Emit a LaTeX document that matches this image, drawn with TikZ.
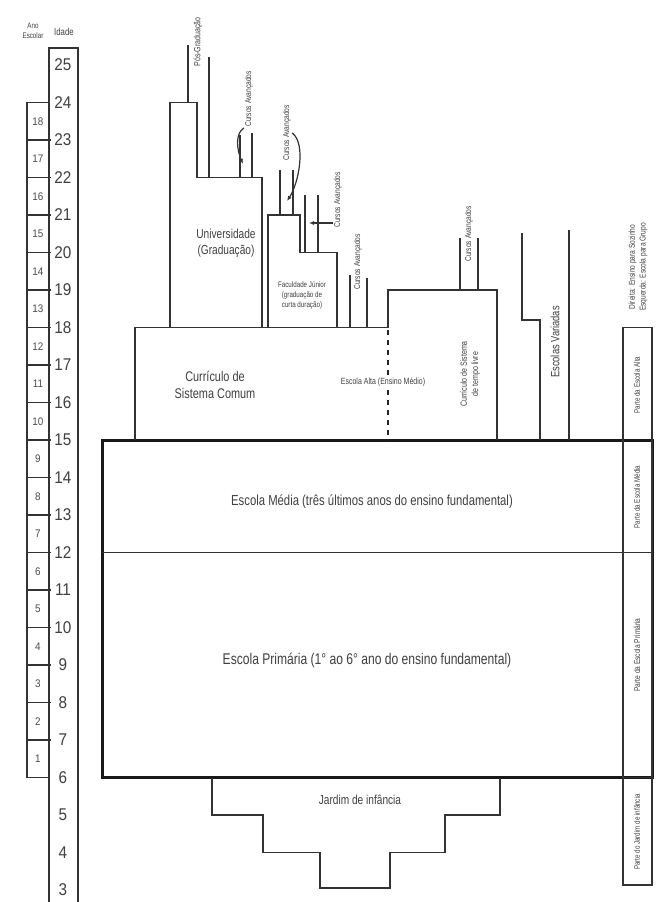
\documentclass[tikz,border=0pt]{standalone}
\usepackage{fontspec}
\setmainfont{Liberation Sans}
\newfontfamily\narrowfont[FakeStretch=0.78]{Liberation Sans}
\newfontfamily\numfont[FakeStretch=0.9]{Liberation Sans}
\usetikzlibrary{arrows.meta}

\begin{document}
\begin{tikzpicture}[x=1pt, y=-1pt,
    ln/.style={draw=black!80, line width=1.5pt},
    boxln/.style={draw=black!90, line width=3pt},
    txt/.style={text=black!75, align=center, inner sep=1pt,
      font=\narrowfont\fontsize{#1}{\fpeval{1.25*#1}}\selectfont},
    vtxt/.style={txt=#1, rotate=90},
    agenum/.style={text=black!75, inner sep=0pt, font=\numfont\fontsize{17}{17}\selectfont},
    yearnum/.style={text=black!70, inner sep=0pt, font=\numfont\fontsize{11}{11}\selectfont},
    arr/.style={draw=black!80, line width=1.2pt, -{Latex[length=5pt, width=4pt]}}]
  \useasboundingbox[fill=white] (0,0) rectangle (656,902);

  % idade e ano escolar
  \node[txt=8]  (anohead) at (33,31) {Ano\\Escolar};
  \node[txt=10] (idadehead) at (64,32) {Idade};
  \draw[ln] (49,902) -- (49,48) -- (78,48) -- (78,902);
  \foreach \a in {3,...,25}
    \node[agenum] (age\a) at (63,{65+(25-\a)*37.5}) {\a};
  \draw[ln] (27,102.5) rectangle (49,777.5);
  \foreach \n in {1,...,17}
    \draw[ln] (27,{65+(19-\n)*37.5}) -- (51,{65+(19-\n)*37.5});
  \foreach \n in {1,...,18}
    \node[yearnum] (yr\n) at (38,{65+(19.5-\n)*37.5}) {\n};

  % ensino fundamental
  \draw[boxln] (102,440) rectangle (652,777.5);
  \draw[ln, line width=1pt] (102,552.5) -- (652,552.5);
  \node[txt=14.5] (media) at (372,502) {Escola Média (três últimos anos do ensino fundamental)};
  \node[txt=15.5] (primaria) at (367,660) {Escola Primária (1° ao 6° ano do ensino fundamental)};

  % jardim de infancia
  \draw[ln] (212,777.5) -- (212,815) -- (263,815) -- (263,852.5) -- (320,852.5)
    -- (320,888) -- (390,888) -- (390,852.5) -- (445,852.5) -- (445,815)
    -- (500,815) -- (500,777.5);
  \node[txt=13] (jardim) at (360,800) {Jardim de infância};

  % escola alta
  \draw[ln] (135,440) -- (135,327.5) -- (388,327.5) -- (388,290) -- (497,290) -- (497,440);
  \draw[draw=black!85, line width=2.5pt, dash pattern=on 5pt off 5pt] (388,330) -- (388,440);
  \node[txt=14] (comum) at (215,385) {Currículo de\\Sistema Comum};
  \node[txt=9, fill=white] (alta) at (383,382) {Escola Alta (Ensino Médio)};
  \node[vtxt=9] (livre) at (470,374) {Currículo de Sistema\\de tempo livre};

  % universidade e faculdade
  \draw[ln] (170,327.5) -- (170,102.5) -- (197,102.5) -- (197,177.5) -- (262,177.5) -- (262,327.5);
  \draw[ln] (268,327.5) -- (268,215) -- (300,215) -- (300,252.5) -- (337,252.5) -- (337,327.5);
  \node[txt=13] (univ) at (226,243) {Universidade\\(Graduação)};
  \node[txt=8] (junior) at (302,295) {Faculdade Júnior\\(graduação de\\curta duração)};

  % pos-graduacao e cursos avancados
  \draw[ln] (188,102.5) -- (188,45);
  \draw[ln] (209,177.5) -- (209,57);
  \node[vtxt=9] (posgrad) at (198,42) {Pós-Graduação};
  \draw[ln] (240,177.5) -- (240,135);
  \draw[ln] (252,177.5) -- (252,133);
  \node[vtxt=8.5] (ca1) at (249,99) {Cursos Avançados};
  \draw[ln] (280,215) -- (280,170);
  \draw[ln] (293,215) -- (293,170);
  \node[vtxt=8.5] (ca2) at (287,133) {Cursos Avançados};
  \draw[ln] (305,252.5) -- (305,195);
  \draw[ln] (318,252.5) -- (318,195);
  \node[vtxt=8.5] (ca3) at (338,200) {Cursos Avançados};
  \draw[ln] (350,327.5) -- (350,275);
  \draw[ln] (367,327.5) -- (367,278);
  \node[vtxt=8.5] (ca4) at (358,262) {Cursos Avançados};
  \draw[ln] (460,290) -- (460,238);
  \draw[ln] (478,290) -- (478,238);
  \node[vtxt=8.5] (ca5) at (469,234) {Cursos Avançados};

  \coordinate (ca1tip) at (243,164);
  \coordinate (ca2tip) at (287,201);
  \coordinate (ca3tip) at (309,223);
  \draw[arr] (ca1.north west) .. controls +(-9,6) and +(-6,-14) .. (ca1tip);
  \draw[arr] (ca2.south) .. controls +(14,10) and +(12,-18) .. (ca2tip);
  \draw[arr] (ca3tip -| ca3.north) -- (ca3tip);

  % escolas variadas
  \draw[ln] (522,233) -- (522,320) -- (540,320) -- (540,440);
  \draw[ln] (569,230) -- (569,440);
  \node[vtxt=12] (variadas) at (555,342) {Escolas Variadas};

  % coluna da direita
  \draw[ln] (623,327.5) rectangle (652,885);
  \draw[ln] (623,777.5) -- (652,777.5);
  \node[vtxt=8.5] (dirhead) at (638,267) {Direita: Ensino para Sozinho\\Esquerda: Escola para Grupo};
  \node[vtxt=8] (parteAlta) at (637,385) {Parte da Escola Alta};
  \node[vtxt=8] (parteMedia) at (637,497) {Parte da Escola Média};
  \node[vtxt=8.5] (partePrim) at (637,655) {Parte da Escola Primária};
  \node[vtxt=8] (parteJardim) at (637,832) {Parte do Jardim de infância};
\end{tikzpicture}
\end{document}
